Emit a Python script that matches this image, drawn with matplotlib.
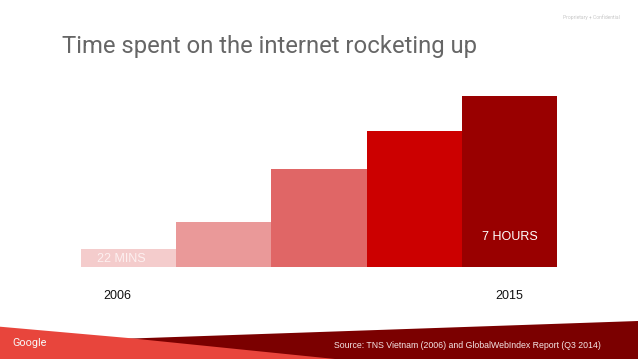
import matplotlib
matplotlib.use('Agg')
import matplotlib.pyplot as plt
from matplotlib.patches import Polygon

# bar heights (relative)
heights = [18, 45, 98, 136, 171]
bar_colors = ['#f4cccc', '#ea9999', '#e06666', '#cc0000', '#990000']
years = ['2006', '2015']
year_pos = [0.38, 4.5]
labels = ['22 MINS', '7 HOURS']
label_pos = [(0.17, 8), (4.21, 30.6)]

W, H = 638, 359
fig = plt.figure(figsize=(W / 100, H / 100), dpi=100)
fig.patch.set_facecolor('white')

def px(x, y):
    return (x / W, 1 - y / H)

# footer band
dark = Polygon([px(100, 339.6), px(638, 321), px(638, 359), px(100, 359)],
               closed=True, transform=fig.transFigure, color='#7b0000', lw=0)
bright = Polygon([px(0, 326.7), px(128, 338), px(335, 359), px(0, 359)],
                 closed=True, transform=fig.transFigure, color='#e8453c', lw=0)
fig.add_artist(dark)
fig.add_artist(bright)

fig.text(12 / W, 1 - 343 / H, 'Google', color='#f8f8f8', fontsize=7.8,
         family='Roboto', va='center', ha='left')
fig.text(334 / W, 1 - 345.7 / H,
         'Source: TNS Vietnam (2006) and GlobalWebIndex Report (Q3 2014)',
         color='#f5e6e6', fontsize=6.35, family='Liberation Sans', va='center', ha='left')

fig.text(62 / W, 1 - 46 / H, 'Time spent on the internet rocketing up',
         color='#666666', fontsize=17.2, family='Roboto', va='center', ha='left')
fig.text(620 / W, 1 - 17 / H, 'Proprietary + Confidential', color='#c8c8c8',
         fontsize=3.6, family='Roboto', va='center', ha='right')

# chart
ax = fig.add_axes([81 / W, (H - 267.3) / H, 476 / W, (267.3 - 96) / H])
ax.bar(range(len(heights)), heights, width=1, align='edge', color=bar_colors, lw=0)
ax.set_xlim(0, 5)
ax.set_ylim(0, 171.3)
ax.axis('off')

for yr, xp in zip(years, year_pos):
    ax.text(xp, -28.7, yr, ha='center', va='center', fontsize=9,
            family='Liberation Sans', color='#111111', clip_on=False)

ax.text(label_pos[0][0], label_pos[0][1], labels[0], ha='left', va='center',
        fontsize=9, family='Liberation Sans', color='#fdf0f0')
ax.text(label_pos[1][0], label_pos[1][1], labels[1], ha='left', va='center',
        fontsize=9, family='Liberation Sans', color='white')

fig.savefig('out.png', dpi=100)
